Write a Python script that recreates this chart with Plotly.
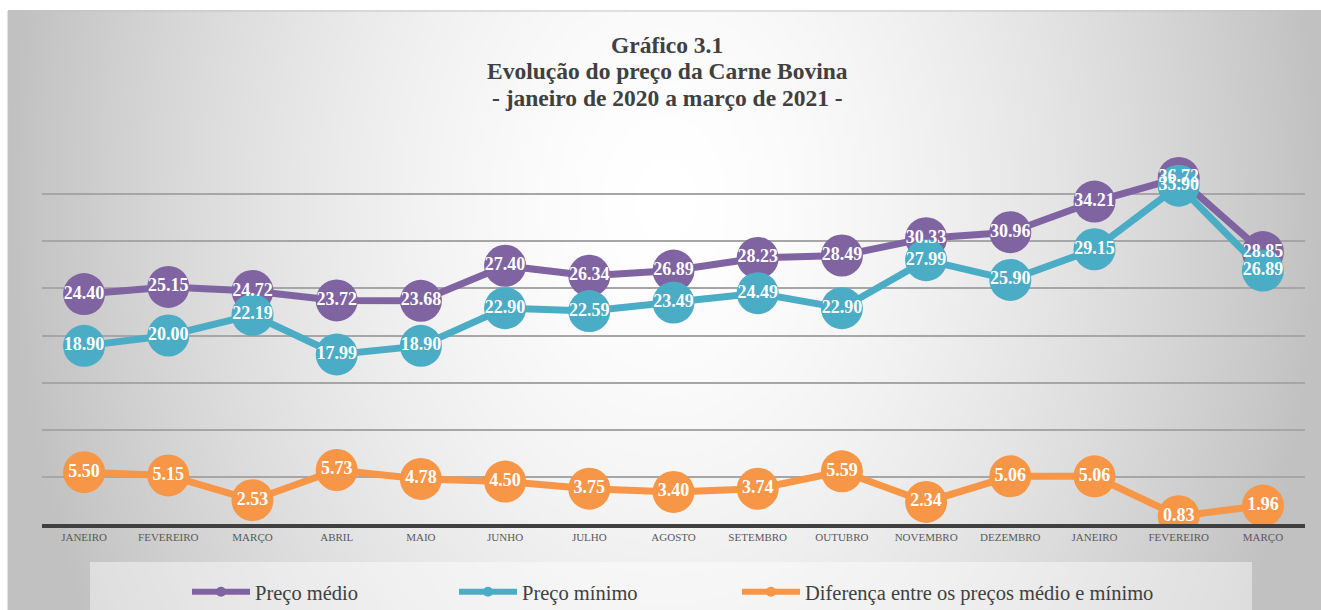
import base64, struct, zlib
import plotly.graph_objects as go

months = ["JANEIRO", "FEVEREIRO", "MARÇO", "ABRIL", "MAIO", "JUNHO", "JULHO", "AGOSTO",
          "SETEMBRO", "OUTUBRO", "NOVEMBRO", "DEZEMBRO", "JANEIRO", "FEVEREIRO", "MARÇO"]
preco_medio = [24.40, 25.15, 24.72, 23.72, 23.68, 27.40, 26.34, 26.89, 28.23, 28.49,
               30.33, 30.96, 34.21, 36.72, 28.85]
preco_minimo = [18.90, 20.00, 22.19, 17.99, 18.90, 22.90, 22.59, 23.49, 24.49, 22.90,
                27.99, 25.90, 29.15, 35.90, 26.89]
diferenca = [5.50, 5.15, 2.53, 5.73, 4.78, 4.50, 3.75, 3.40, 3.74, 5.59,
             2.34, 5.06, 5.06, 0.83, 1.96]
series_names = ["Preço médio", "Preço mínimo", "Diferença entre os preços médio e mínimo"]
title_lines = ["Gráfico 3.1", "Evolução do preço da Carne Bovina",
               "- janeiro de 2020 a março de 2021 -"]
y_ticks = [0, 5, 10, 15, 20, 25, 30, 35, 40]

colors = ["#8064A2", "#4BACC6", "#F79646"]
x = list(range(len(months)))

W, H = 1321, 610
ML, MR, MT, MB = 42, 16, 147, 86
PW = W - ML - MR
PH = H - MT - MB


def px_x(p):
    return (p - ML) / PW


def px_y(p):
    return (H - MB - p) / PH


# background radial gradient image (style only)
def make_png(w, h):
    rows = []
    for j in range(h):
        py = 10 + (600 * j / (h - 1))
        row = bytearray([0])
        for i in range(w):
            pxv = 8 + (1313 * i / (w - 1))
            dx = (pxv - 665) / 660
            dy = (py - 200) / 900
            d = min(1.0, (dx * dx + dy * dy) ** 0.5)
            v = int(round(255 - 62 * d ** 1.6))
            row.append(max(0, min(255, v)))
        rows.append(bytes(row))
    raw = b"".join(rows)

    def chunk(t, data):
        c = struct.pack(">I", len(data)) + t + data
        return c + struct.pack(">I", zlib.crc32(t + data) & 0xffffffff)

    png = b"\x89PNG\r\n\x1a\n"
    png += chunk(b"IHDR", struct.pack(">IIBBBBB", w, h, 8, 0, 0, 0, 0))
    png += chunk(b"IDAT", zlib.compress(raw, 9))
    png += chunk(b"IEND", b"")
    return "data:image/png;base64," + base64.b64encode(png).decode()


bg = make_png(330, 150)

fig = go.Figure()
series = [preco_medio, preco_minimo, diferenca]
for vals, c in zip(series, colors):
    fig.add_trace(go.Scatter(
        x=x, y=vals, mode="lines+markers",
        line=dict(color=c, width=7),
        marker=dict(size=42, color=c, line=dict(width=0)),
        showlegend=False, hoverinfo="skip"))
for vals in series:
    fig.add_trace(go.Scatter(
        x=x, y=vals, mode="text",
        text=[f"{v:.2f}" for v in vals], textposition="middle center",
        textfont=dict(family="Liberation Serif", size=18, color="white", weight="bold"),
        showlegend=False, hoverinfo="skip"))

ITEMW = 58
legend_text_x = [255, 522, 805]
for k, (name, c) in enumerate(zip(series_names, colors)):
    lg = "legend" if k == 0 else f"legend{k+1}"
    fig.add_trace(go.Scatter(
        x=[None], y=[None], mode="lines+markers", name=name,
        line=dict(color=c, width=6), marker=dict(size=10, color=c),
        legend=lg))

leg_common = dict(orientation="h", yanchor="middle", xanchor="left", itemwidth=ITEMW,
                  xref="container", yref="container",
                  bgcolor="rgba(0,0,0,0)", borderwidth=0,
                  font=dict(family="Liberation Serif", size=20.5, color="#404040"))
leg_y = 1 - 592 / H
fig.update_layout(
    legend=dict(x=(legend_text_x[0] - ITEMW - 10) / W, y=leg_y, **leg_common),
    legend2=dict(x=(legend_text_x[1] - ITEMW - 10) / W, y=leg_y, **leg_common),
    legend3=dict(x=(legend_text_x[2] - ITEMW - 10) / W, y=leg_y, **leg_common),
)

title_y = [45, 71, 98]
annotations = [dict(text=t, xref="paper", yref="paper", x=px_x(667), y=px_y(ty),
                    xanchor="center", yanchor="middle", showarrow=False,
                    font=dict(family="Liberation Serif", size=23.5, color="#404040", weight="bold"))
               for t, ty in zip(title_lines, title_y)]

fig.update_layout(
    width=W, height=H, autosize=False,
    margin=dict(l=ML, r=MR, t=MT, b=MB, autoexpand=False),
    paper_bgcolor="white", plot_bgcolor="rgba(0,0,0,0)",
    images=[dict(source=bg, xref="paper", yref="paper",
                 x=px_x(8), y=px_y(10), sizex=(W - 8) / PW, sizey=600 / PH,
                 xanchor="left", yanchor="top", sizing="stretch", layer="below")],
    shapes=[
        dict(type="rect", xref="paper", yref="paper",
             x0=px_x(90), x1=px_x(1252), y0=px_y(562), y1=px_y(640),
             fillcolor="rgba(255,255,255,0.45)", line=dict(width=0), layer="below"),
        dict(type="rect", xref="paper", yref="paper",
             x0=px_x(8), x1=px_x(1330), y0=px_y(11), y1=px_y(640),
             fillcolor="rgba(0,0,0,0)", line=dict(color="#c4c4c4", width=1), layer="below"),
    ],
    annotations=annotations,
    xaxis=dict(range=[-0.5, len(months) - 0.5], tickvals=x, ticktext=months,
               showgrid=False, zeroline=False, showline=True, linecolor="#404040", linewidth=4,
               ticks="", tickfont=dict(family="Liberation Serif", size=11, color="#595959"),
               automargin=False, fixedrange=True),
    yaxis=dict(range=[0, 40], tickvals=y_ticks, showticklabels=False, showgrid=True,
               gridcolor="#a6a6a6", gridwidth=1.5, zeroline=False, showline=False,
               automargin=False, fixedrange=True),
)

fig.write_html("out.html",
               config={"responsive": False, "displayModeBar": False},
               post_script="document.body.style.margin='0';document.body.style.overflow='hidden';")
